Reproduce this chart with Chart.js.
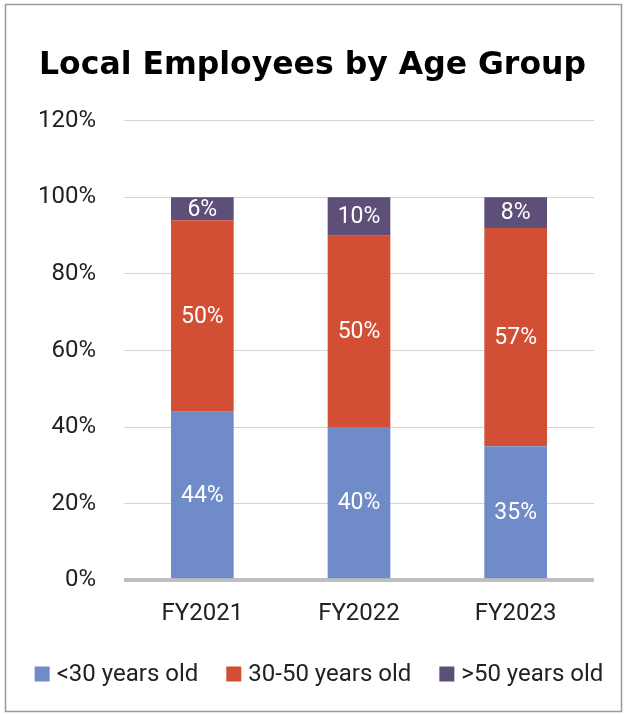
<!DOCTYPE html>
<html>
<head>
<meta charset="utf-8">
<script src="https://cdn.jsdelivr.net/npm/chart.js@4/dist/chart.umd.min.js"></script>
<style>
  html, body { margin: 0; padding: 0; background: #fff; }
  #wrap { width: 626px; height: 715px; position: relative; }
</style>
</head>
<body>
<div id="wrap"><canvas id="chart" width="626" height="715"></canvas></div>
<script>
// Chart data
const years = ['FY2021', 'FY2022', 'FY2023'];
const under30 = [44, 40, 35];
const from30to50 = [50, 50, 57];
const over50 = [6, 10, 8];
const seriesNames = ['<30 years old', '30-50 years old', '>50 years old'];
const seriesColors = ['#6F8BC8', '#D24F35', '#5E4F78'];

const FONT = 'Roboto';

// Frame around the whole picture
const framePlugin = {
  id: 'frame',
  beforeDraw(chart) {
    const ctx = chart.ctx;
    ctx.save();
    ctx.fillStyle = '#fff';
    ctx.fillRect(0, 0, chart.width, chart.height);
    ctx.strokeStyle = '#9a9a9a';
    ctx.lineWidth = 1.5;
    ctx.strokeRect(5.5, 4.5, 616, 707);
    ctx.restore();
  }
};

// Value labels in the middle of each segment
const barLabels = {
  id: 'barLabels',
  afterDatasetsDraw(chart) {
    const ctx = chart.ctx;
    ctx.save();
    ctx.font = '23px ' + FONT;
    ctx.fillStyle = '#fff';
    ctx.textAlign = 'center';
    ctx.textBaseline = 'middle';
    chart.data.datasets.forEach((ds, i) => {
      chart.getDatasetMeta(i).data.forEach((bar, j) => {
        const y = (bar.y + bar.base) / 2;
        ctx.fillText(ds.data[j] + '%', bar.x, y + 1);
      });
    });
    ctx.restore();
  }
};

// Single-row legend along the bottom (built-in one wraps inside the padding)
const rowLegend = {
  id: 'rowLegend',
  afterDraw(chart) {
    const ctx = chart.ctx;
    const box = 15, gapText = 7, gapItem = 28, y = 674;
    ctx.save();
    ctx.font = '24px ' + FONT;
    ctx.textBaseline = 'middle';
    const widths = chart.data.datasets.map(ds => box + gapText + ctx.measureText(ds.label).width);
    const total = widths.reduce((a, b) => a + b, 0) + gapItem * (widths.length - 1);
    let x = 319 - total / 2;
    chart.data.datasets.forEach((ds, i) => {
      ctx.fillStyle = ds.backgroundColor;
      ctx.fillRect(x, y - box / 2, box, box);
      ctx.fillStyle = '#222';
      ctx.fillText(ds.label, x + box + gapText, y + 1);
      x += widths[i] + gapItem;
    });
    ctx.restore();
  }
};

new Chart(document.getElementById('chart'), {
  type: 'bar',
  data: {
    labels: years,
    datasets: [under30, from30to50, over50].map((d, i) => ({
      label: seriesNames[i],
      data: d,
      backgroundColor: seriesColors[i],
      categoryPercentage: 1,
      barPercentage: 0.4
    }))
  },
  options: {
    responsive: false,
    animation: false,
    layout: { padding: { left: 31, right: 32, top: 0, bottom: 76 } },
    plugins: {
      title: {
        display: true,
        text: 'Local Employees by Age Group',
        color: '#000',
        font: { family: 'DejaVu Sans', size: 31.5, weight: 'bold' },
        padding: { top: 47, bottom: 36 }
      },
      legend: { display: false },
      tooltip: { enabled: false }
    },
    scales: {
      x: {
        stacked: true,
        grid: { display: false },
        border: { display: false },
        ticks: { color: '#222', font: { family: FONT, size: 24 }, padding: 11 }
      },
      y: {
        stacked: true,
        min: 0,
        max: 120,
        border: { display: false },
        afterFit: axis => { axis.width = 93; },
        grid: {
          drawTicks: false,
          color: ctx => ctx.tick.value === 0 ? '#bfbfbf' : '#d4d4d4',
          lineWidth: ctx => ctx.tick.value === 0 ? 4 : 1
        },
        ticks: {
          stepSize: 20,
          color: '#222',
          font: { family: FONT, size: 24 },
          padding: 28,
          callback: v => v + '%'
        }
      }
    }
  },
  plugins: [framePlugin, barLabels, rowLegend]
});
</script>
</body>
</html>
